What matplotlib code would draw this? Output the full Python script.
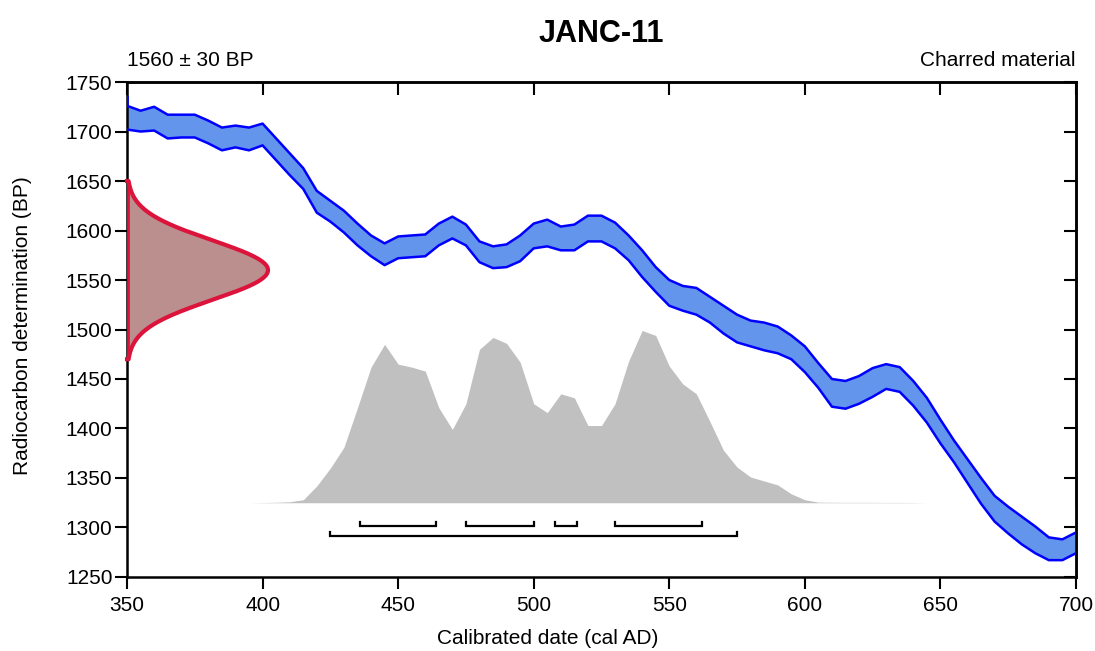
import numpy as np
import matplotlib
matplotlib.use("Agg")
import matplotlib.pyplot as plt

plt.rcParams['font.family'] = ['Liberation Sans', 'DejaVu Sans']

# datacao e amostra
titulo = "JANC-11"
idade_bp = 1560
erro_bp = 30
material = "Charred material"

# curva de calibracao (banda superior / inferior), passo de 5 anos
anos_curva = np.arange(350, 705, 5)
curva_sup = [1726, 1721, 1725, 1717, 1717, 1717, 1711, 1704, 1706, 1704,
             1708, 1693, 1678, 1663, 1640, 1630, 1620, 1607, 1595, 1587,
             1594, 1595, 1596, 1607, 1614, 1606, 1589, 1584, 1586, 1595,
             1607, 1611, 1604, 1606, 1615, 1615, 1608, 1595, 1580, 1563,
             1550, 1544, 1542, 1533, 1524, 1515, 1509, 1507, 1503, 1494,
             1483, 1466, 1450, 1448, 1453, 1461, 1465, 1462, 1448, 1431,
             1409, 1388, 1369, 1350, 1332, 1321, 1311, 1301, 1290, 1288, 1295]
curva_inf = [1702, 1700, 1701, 1693, 1694, 1694, 1688, 1681, 1684, 1681,
             1686, 1671, 1656, 1642, 1618, 1609, 1598, 1585, 1574, 1565,
             1572, 1573, 1574, 1585, 1592, 1585, 1568, 1562, 1563, 1569,
             1582, 1584, 1580, 1580, 1589, 1589, 1582, 1570, 1553, 1538,
             1524, 1519, 1515, 1507, 1496, 1487, 1483, 1479, 1476, 1470,
             1457, 1441, 1422, 1420, 1425, 1432, 1440, 1437, 1423, 1406,
             1385, 1366, 1345, 1324, 1306, 1294, 1283, 1274, 1267, 1267, 1274]

# distribuicao calibrada (topo da area cinza, em BP sobre a base)
base_dist = 1325
anos_dist = np.arange(395, 650, 5)
topo_dist = [1325, 1325.2, 1325.5, 1326, 1328, 1342, 1360, 1381, 1421, 1462,
             1485, 1465, 1462, 1458, 1421, 1399, 1425, 1480, 1492, 1486,
             1467, 1425, 1416, 1435, 1431, 1403, 1403, 1425, 1468, 1499,
             1494, 1463, 1445, 1435, 1407, 1378, 1361, 1351, 1347, 1343,
             1334, 1328, 1325.6, 1325.5, 1325.4, 1325.4, 1325.4, 1325.3,
             1325.3, 1325.2, 1325]

# intervalos (68.2% e 95.4%)
faixas_68 = [(436, 464), (475, 500), (508, 516), (530, 562)]
faixas_95 = [(425, 575)]

xticks = list(range(350, 701, 50))
yticks = list(range(1250, 1751, 50))

fig = plt.figure(figsize=(10.95, 6.51), dpi=100)
ax = fig.add_axes([0.116, 0.1137, 0.8666, 0.7603])

# area cinza
ax.fill_between(anos_dist, base_dist, topo_dist, color='#c0c0c0', lw=0, zorder=1)

# banda da curva
ax.fill_between(anos_curva, curva_inf, curva_sup, color='#6495ed', lw=0, zorder=2)
ax.plot(anos_curva, curva_sup, color='#0000ff', lw=1.8, zorder=3)
ax.plot(anos_curva, curva_inf, color='#0000ff', lw=1.8, zorder=3)
ax.plot([350, 350], [curva_sup[0], 1735], color='#0000ff', lw=1.8, zorder=3)
ax.plot([700, 700], [1250, 1320], color='#0000ff', lw=1.8, zorder=3)

# gaussiana da datacao
y_g = np.linspace(idade_bp - 3 * erro_bp, idade_bp + 3 * erro_bp, 300)
x_g = 350 + 52 * np.exp(-0.5 * ((y_g - idade_bp) / erro_bp) ** 2)
ax.fill_betweenx(y_g, 350, x_g, color='#bc8f8f', lw=0, zorder=2)
ax.plot(np.r_[350, x_g, 350], np.r_[y_g[0], y_g, y_g[-1]], color='#dc143c',
        lw=3, zorder=4, clip_on=False)
ax.plot([350.4, 350.4], [y_g[0], y_g[-1]], color='#dc143c', lw=2, zorder=4)

# colchetes dos intervalos
for ini, fim in faixas_68:
    ax.plot([ini, ini, fim, fim], [1306, 1301, 1301, 1306], color='black',
            lw=1.6, solid_joinstyle='miter', zorder=3)
for ini, fim in faixas_95:
    ax.plot([ini, ini, fim, fim], [1295, 1291, 1291, 1295], color='black',
            lw=1.6, solid_joinstyle='miter', zorder=3)

ax.set_xlim(350, 700)
ax.set_ylim(1250, 1750)
ax.set_xticks(xticks)
ax.set_yticks(yticks)
ax.tick_params(direction='out', length=8.5, width=1.5, labelsize=15, pad=2)
ax.tick_params(axis='x', pad=5)
for s in ax.spines.values():
    s.set_linewidth(1.8)

axt = ax.secondary_xaxis('top')
axt.set_xticks(xticks)
axt.set_xticklabels([])
axt.tick_params(direction='in', length=9, width=1.5)
axt.spines['top'].set_linewidth(1.8)
axr = ax.secondary_yaxis('right')
axr.set_yticks(yticks)
axr.set_yticklabels([])
axr.tick_params(direction='in', length=9, width=1.5)
axr.spines['right'].set_linewidth(1.8)

ax.text(0, 1.033, f"{idade_bp} \u00b1 {erro_bp} BP", transform=ax.transAxes,
        fontsize=15, ha='left', va='baseline')
ax.text(1, 1.033, material, transform=ax.transAxes,
        fontsize=15, ha='right', va='baseline')

# titulo centrado sobre o eixo
ax.text(0.5, 1.0, titulo, transform=ax.transAxes, fontsize=22, fontweight='bold',
        ha='center', va='baseline',
        position=(0.5, 1 + 40 / 495))
fig.supxlabel("Calibrated date (cal AD)", fontsize=15, x=0.5, y=0.005, va='bottom')
fig.supylabel("Radiocarbon determination (BP)", fontsize=15, x=0.012, ha='left')

fig.savefig("out.png", dpi=100)
